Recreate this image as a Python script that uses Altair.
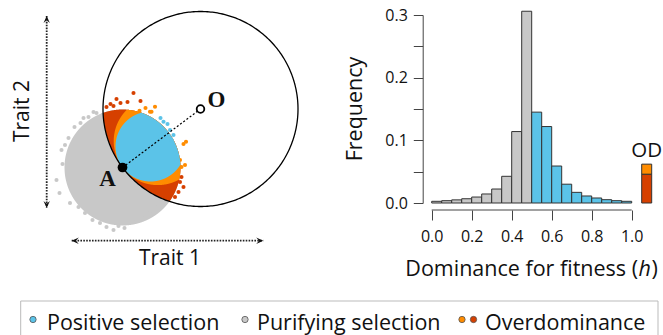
import altair as alt
import numpy as np
import pandas as pd

# ---------------- data: histogram of dominance for fitness (h) ----------------
H_BIN_START = [0.00, 0.05, 0.10, 0.15, 0.20, 0.25, 0.30, 0.35, 0.40, 0.45,
               0.50, 0.55, 0.60, 0.65, 0.70, 0.75, 0.80, 0.85, 0.90, 0.95]
H_FREQ = [0.0027, 0.0037, 0.0050, 0.0068, 0.0095, 0.0144, 0.0223, 0.0426, 0.114, 0.306,
          0.145, 0.122, 0.059, 0.030, 0.017, 0.0112, 0.008, 0.0053, 0.0037, 0.0027]
H_BIN_WIDTH = 0.05
OD_BIN = [1.05, 1.10]
OD_LOWER = 0.046   # red part
OD_UPPER = 0.062   # top of orange part
X_TICKS = [0.0, 0.2, 0.4, 0.6, 0.8, 1.0]
Y_TICKS = [0.0, 0.05, 0.10, 0.15, 0.20, 0.25, 0.30]

# ---------------- data: Fisher geometric model schematic (trait units) --------
OPTIMUM = (0.0, 0.0)
RADIUS = 97.5
PARENT = (-78.0, -58.5)
CLOUD_R = 58.0
BLUE_R = 35.0
ORANGE_R = 44.0
RED_DOTS_X = [-67, -80, -73, -87, -94, -19, -17, -22, -25.5, -20.5, -90, -84, -60]
RED_DOTS_Y = [16, 6, 7, 3, 2, -68, -78, -83, -88, -73, 5, 10, 8]
ORANGE_DOTS_X = [-45.5, -50.5, -61, -14.5, -17, -20.5, -15.5, -24, -49, -55, -19]
ORANGE_DOTS_Y = [2.3, -2.7, -1.7, -32.7, -35, -51, -56, -61, -2.7, 1, -58]
BLUE_DOTS_X = [-37, -33, -30.5, -27, -29, -25.5, -24, -40]
BLUE_DOTS_Y = [-12.7, -15, -21, -26, -31, -44.3, -51, -9]
GREY_DOTS_X = [-144, -139, -135.5, -117, -104, -107, -115.5, -100.5, -87, -94, -67,
               -50.5, -37, -130.5, -132, -112, -122, -138, -126, -108, -76, -58, -45,
               -141, -120, -98, -82]
GREY_DOTS_Y = [-71, -41, -36, -9, -4, -3, -104, -114, -121, -118, -113,
               -103, -93, -94, -29, -8, -98, -55, -18, -111, -119, -109, -98,
               -84, -14, -6, -117]
TRAIT2_ARROW_X = -153.8
TRAIT2_ARROW_Y = [93.0, -99.0]
TRAIT1_ARROW_Y = -131.7
TRAIT1_ARROW_X = [-128.8, 62.8]

LEGEND_LABELS = ["Positive selection", "Purifying selection", "Overdominance"]

# ---------------- styles ----------------
GREY = "#C8C8C8"
BLUE = "#5BC3E8"
ORANGE = "#FF8C00"
RED = "#D64000"
TEXT = "#111111"
AXC = "#444444"
FONT = "Open Sans"
SERIF = "Liberation Serif"

# scales with explicit pixel ranges (both panels share one canvas)
LX = alt.Scale(domain=[-100, 100], range=[100.5, 300.5], nice=False, zero=False)
LY = alt.Scale(domain=[-100, 100], range=[209, 9], nice=False, zero=False)
HX = alt.Scale(domain=[0, 1.1], range=[431.7, 651.7], nice=False, zero=False)
HY = alt.Scale(domain=[0, 0.3], range=[203, 15], nice=False, zero=False)


def lx(f="x"):
    return alt.X(f"{f}:Q", scale=LX, axis=None)


def ly(f="y"):
    return alt.Y(f"{f}:Q", scale=LY, axis=None)


def lens(c1, r1, c2, r2, n=900):
    x0 = max(c1[0] - r1, c2[0] - r2)
    x1 = min(c1[0] + r1, c2[0] + r2)
    xs = np.linspace(x0, x1, n)
    h1 = np.sqrt(np.clip(r1 ** 2 - (xs - c1[0]) ** 2, 0, None))
    h2 = np.sqrt(np.clip(r2 ** 2 - (xs - c2[0]) ** 2, 0, None))
    lo = np.maximum(c1[1] - h1, c2[1] - h2)
    hi = np.minimum(c1[1] + h1, c2[1] + h2)
    k = hi >= lo
    return pd.DataFrame({"x": xs[k], "y": lo[k], "y2": hi[k]})


ux = (OPTIMUM[0] - PARENT[0]) / RADIUS
uy = (OPTIMUM[1] - PARENT[1]) / RADIUS
blue_c = (PARENT[0] + BLUE_R * ux, PARENT[1] + BLUE_R * uy)
orange_c = (PARENT[0] + ORANGE_R * ux, PARENT[1] + ORANGE_R * uy)


def region(df, color):
    return alt.Chart(df).mark_area(color=color, opacity=1).encode(x=lx(), y=ly(), y2="y2:Q")


def dots(xs, ys, color):
    return alt.Chart(pd.DataFrame({"x": xs, "y": ys})).mark_circle(
        color=color, size=17, opacity=1).encode(x=lx(), y=ly())


layers = []
layers.append(region(lens(PARENT, CLOUD_R, PARENT, CLOUD_R), GREY))
layers.append(dots(GREY_DOTS_X, GREY_DOTS_Y, GREY))
layers.append(region(lens(PARENT, CLOUD_R, OPTIMUM, RADIUS), RED))
layers.append(dots(RED_DOTS_X, RED_DOTS_Y, RED))
layers.append(region(lens(PARENT, CLOUD_R, orange_c, ORANGE_R), ORANGE))
layers.append(dots(ORANGE_DOTS_X, ORANGE_DOTS_Y, ORANGE))
layers.append(region(lens(PARENT, CLOUD_R, blue_c, BLUE_R), BLUE))
layers.append(dots(BLUE_DOTS_X, BLUE_DOTS_Y, BLUE))

# fitness contour circle around the optimum
t = np.linspace(0, 2 * np.pi, 361)
circ = pd.DataFrame({"x": OPTIMUM[0] + RADIUS * np.cos(t), "y": OPTIMUM[1] + RADIUS * np.sin(t), "o": np.arange(361)})
layers.append(alt.Chart(circ).mark_line(color="black", strokeWidth=1.3).encode(x=lx(), y=ly(), order="o:Q"))

# dotted segment A -> O
seg = pd.DataFrame({"x": [PARENT[0], OPTIMUM[0]], "y": [PARENT[1], OPTIMUM[1]], "o": [0, 1]})
layers.append(alt.Chart(seg).mark_line(color="black", strokeWidth=1.2, strokeDash=[2, 2]).encode(
    x=lx(), y=ly(), order="o:Q"))

pA = pd.DataFrame({"x": [PARENT[0]], "y": [PARENT[1]], "t": ["A"]})
pO = pd.DataFrame({"x": [OPTIMUM[0]], "y": [OPTIMUM[1]], "t": ["O"]})
layers.append(alt.Chart(pA).mark_point(shape="circle", filled=True, color="black", size=95, opacity=1).encode(x=lx(), y=ly()))
layers.append(alt.Chart(pO).mark_point(shape="circle", fill="white", stroke="black", strokeWidth=1.8,
                                       size=58, opacity=1, fillOpacity=1).encode(x=lx(), y=ly()))
layers.append(alt.Chart(pA).mark_text(font=SERIF, fontWeight="bold", fontSize=23, color=TEXT,
                                      dx=-15, dy=11, baseline="middle", align="center").encode(x=lx(), y=ly(), text="t:N"))
layers.append(alt.Chart(pO).mark_text(font=SERIF, fontWeight="bold", fontSize=23, color=TEXT,
                                      dx=16, dy=-9, baseline="middle", align="center").encode(x=lx(), y=ly(), text="t:N"))

# trait arrows
varr = pd.DataFrame({"x": [TRAIT2_ARROW_X], "y": [TRAIT2_ARROW_Y[0]], "y2": [TRAIT2_ARROW_Y[1]]})
harr = pd.DataFrame({"x": [TRAIT1_ARROW_X[0]], "x2": [TRAIT1_ARROW_X[1]], "y": [TRAIT1_ARROW_Y]})
layers.append(alt.Chart(varr).mark_rule(color="#222", strokeWidth=1.8, strokeDash=[1.6, 1.3]).encode(
    x=lx(), y=ly(), y2="y2:Q"))
layers.append(alt.Chart(harr).mark_rule(color="#222", strokeWidth=1.8, strokeDash=[1.6, 1.3]).encode(
    x=lx(), x2="x2:Q", y=ly()))
heads = [
    (TRAIT2_ARROW_X, TRAIT2_ARROW_Y[0], "M0,0 L-0.45,1 L0,0.6 L0.45,1 Z"),
    (TRAIT2_ARROW_X, TRAIT2_ARROW_Y[1], "M0,0 L-0.45,-1 L0,-0.6 L0.45,-1 Z"),
    (TRAIT1_ARROW_X[0], TRAIT1_ARROW_Y, "M0,0 L1,-0.45 L0.6,0 L1,0.45 Z"),
    (TRAIT1_ARROW_X[1], TRAIT1_ARROW_Y, "M0,0 L-1,-0.45 L-0.6,0 L-1,0.45 Z"),
]
for hx_, hy_, path in heads:
    layers.append(alt.Chart(pd.DataFrame({"x": [hx_], "y": [hy_]})).mark_point(
        shape=path, filled=True, color="#111", size=200, opacity=1).encode(x=lx(), y=ly()))


def label(txt, x, y, size=21.5, angle=0, align="center", baseline="middle", style="normal"):
    return alt.Chart(pd.DataFrame({"t": [txt]})).mark_text(
        font=FONT, fontSize=size, color=TEXT, angle=angle, align=align, baseline=baseline,
        fontStyle=style).encode(x=alt.value(x), y=alt.value(y), text="t:N")


layers.append(label("Trait 2", 23, 111, size=21, angle=270))
layers.append(label("Trait 1", 170, 265, size=21, baseline="alphabetic"))

# ---------------- histogram ----------------
hist = pd.DataFrame({
    "lo": H_BIN_START,
    "hi": [b + H_BIN_WIDTH for b in H_BIN_START],
    "y0": [0.0] * len(H_BIN_START),
    "freq": H_FREQ,
    "cls": ["Purifying selection" if b < 0.5 else "Positive selection" for b in H_BIN_START],
})
od = pd.DataFrame({
    "lo": [OD_BIN[0]] * 2, "hi": [OD_BIN[1]] * 2,
    "y0": [0.0, OD_LOWER], "freq": [OD_LOWER, OD_UPPER],
    "cls": ["Overdominance (strong)", "Overdominance"],
})
CLS_SCALE = alt.Scale(
    domain=["Positive selection", "Purifying selection", "Overdominance", "Overdominance (strong)"],
    range=[BLUE, GREY, ORANGE, RED])

xaxis = alt.Axis(values=X_TICKS, format=".1f", orient="bottom", offset=-125, domain=False,
                 tickSize=10, tickColor=AXC, tickWidth=1, labelFont=FONT, labelFontSize=16,
                 labelColor=TEXT, labelPadding=8, labelFlush=False, labelOverlap=False,
                 grid=False, title=None)
yaxis = alt.Axis(values=Y_TICKS, orient="left", offset=-422.7, domainColor=AXC, domainWidth=1,
                 tickSize=9.4, tickColor=AXC, tickWidth=1, labelFont=FONT, labelFontSize=16,
                 labelColor=TEXT, labelPadding=6, labelFlush=False, labelOverlap=False,
                 labelExpr="(round(datum.value*100) % 10 == 0) ? format(datum.value, '.1f') : ''",
                 grid=False, title=None)

layers.append(alt.Chart(hist).mark_rect(stroke="#333333", strokeWidth=1).encode(
    x=alt.X("lo:Q", scale=HX, axis=xaxis), x2="hi:Q",
    y=alt.Y("freq:Q", scale=HY, axis=yaxis), y2="y0:Q",
    color=alt.Color("cls:N", scale=CLS_SCALE, legend=None)))
layers.append(alt.Chart(od).mark_rect(stroke="#333333", strokeWidth=1).encode(
    x=alt.X("lo:Q", scale=HX, axis=None), x2="hi:Q",
    y=alt.Y("freq:Q", scale=HY, axis=None), y2="y0:Q",
    color=alt.Color("cls:N", scale=CLS_SCALE, legend=None)))
# x axis line from 0 to 1
layers.append(alt.Chart(pd.DataFrame({"a": [X_TICKS[0]], "b": [X_TICKS[-1]]})).mark_rule(
    color=AXC, strokeWidth=1).encode(x=alt.X("a:Q", scale=HX, axis=None), x2="b:Q", y=alt.value(210)))
# OD label
layers.append(alt.Chart(pd.DataFrame({"x": [sum(OD_BIN) / 2], "y": [OD_UPPER], "t": ["OD"]})).mark_text(
    font=FONT, fontSize=20.5, color=TEXT, baseline="alphabetic", align="center", dy=-7).encode(
    x=alt.X("x:Q", scale=HX, axis=None), y=alt.Y("y:Q", scale=HY, axis=None), text="t:N"))

layers.append(label("Frequency", 355.5, 109, angle=270))
layers.append(label("Dominance for fitness (", 638, 276, align="right", baseline="alphabetic"))
layers.append(label("h", 638.5, 276, align="left", baseline="alphabetic", style="italic"))
layers.append(label(")", 651.5, 276, align="left", baseline="alphabetic"))

# ---------------- legend box ----------------
layers.append(alt.Chart(pd.DataFrame({"a": [0]})).mark_rect(
    fillOpacity=0, stroke="#BBBBBB", strokeWidth=1).encode(
    x=alt.value(20.7), x2=alt.value(658), y=alt.value(301), y2=alt.value(350)))
LEG_DOT_X = [[33], [245], [462, 473.5]]
LEG_DOT_C = [[BLUE], [GREY], [ORANGE, RED]]
LEG_TEXT_X = [47, 257, 485]
for lab, dxs, dcs, tx in zip(LEGEND_LABELS, LEG_DOT_X, LEG_DOT_C, LEG_TEXT_X):
    for dx_, dc in zip(dxs, dcs):
        layers.append(alt.Chart(pd.DataFrame({"a": [0]})).mark_point(
            shape="circle", filled=True, fill=dc, stroke="#555555", strokeWidth=0.8,
            size=40, opacity=1, fillOpacity=1).encode(x=alt.value(dx_), y=alt.value(319.5)))
    layers.append(label(lab, tx, 330, align="left", baseline="alphabetic"))

chart = alt.layer(*layers).resolve_scale(
    x="independent", y="independent", color="independent"
).properties(
    width=663, height=335, autosize=alt.AutoSizeParams(type="none"), padding=0
).configure_view(stroke=None)

chart.save("out.html", embed_options={"renderer": "svg", "actions": False})
